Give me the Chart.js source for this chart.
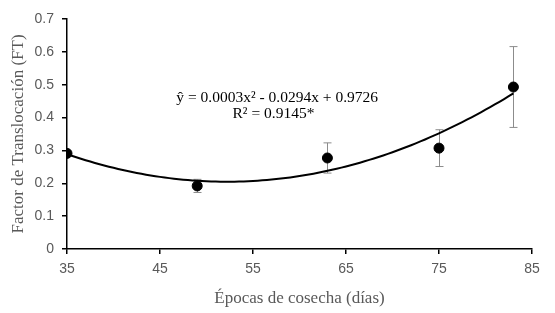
<!DOCTYPE html>
<html>
<head>
<meta charset="utf-8">
<script src="https://cdn.jsdelivr.net/npm/chart.js@4.4.1/dist/chart.umd.min.js"></script>
<style>
  html, body { margin: 0; padding: 0; background: #fff; }
  #wrap { width: 555px; height: 313px; }
</style>
</head>
<body>
<div id="wrap"><canvas id="chart"></canvas></div>
<script>
// harvest times (days) and translocation factor
var dias = [35, 49, 63, 75, 83];
var factor = [0.291, 0.192, 0.277, 0.307, 0.493];
var errorFT = [0, 0.020, 0.046, 0.056, 0.123];
var xTicks = [35, 45, 55, 65, 75, 85];
var ecuacion = "ŷ = 0.0003x² - 0.0294x + 0.9726";
var r2 = "R² = 0.9145*";

// polynomial trendline (order 2), least squares on the points like Excel does
function fitQuad(xs, ys) {
    var n = xs.length, s = [0, 0, 0, 0, 0], t = [0, 0, 0];
    for (var i = 0; i < n; i++) {
        var p = 1;
        for (var k = 0; k < 5; k++) { s[k] += p; if (k < 3) t[k] += p * ys[i]; p *= xs[i]; }
    }
    var m = [[s[0], s[1], s[2], t[0]], [s[1], s[2], s[3], t[1]], [s[2], s[3], s[4], t[2]]];
    for (var c = 0; c < 3; c++) {
        for (var r = c + 1; r < 3; r++) {
            var f = m[r][c] / m[c][c];
            for (var j = c; j < 4; j++) m[r][j] -= f * m[c][j];
        }
    }
    var b = [0, 0, 0];
    for (var r2i = 2; r2i >= 0; r2i--) {
        var sum = m[r2i][3];
        for (var j2 = r2i + 1; j2 < 3; j2++) sum -= m[r2i][j2] * b[j2];
        b[r2i] = sum / m[r2i][r2i];
    }
    return b;
}
var coef = fitQuad(dias, factor);
var tendencia = [];
for (var x = dias[0]; x <= dias[dias.length - 1] + 0.001; x += 0.5) {
    tendencia.push({ x: x, y: coef[0] + coef[1] * x + coef[2] * x * x });
}

var gris = "#595959";

var errorBars = {
    id: "errorBars",
    beforeDatasetsDraw: function(chart) {
        var ctx = chart.ctx, xs = chart.scales.x, ys = chart.scales.y;
        ctx.save();
        ctx.strokeStyle = "#8c8c8c";
        ctx.lineWidth = 1;
        for (var i = 0; i < dias.length; i++) {
            if (!errorFT[i]) continue;
            var px = Math.round(xs.getPixelForValue(dias[i])) + 0.5;
            var top = ys.getPixelForValue(factor[i] + errorFT[i]);
            var bot = ys.getPixelForValue(factor[i] - errorFT[i]);
            ctx.beginPath();
            ctx.moveTo(px, top); ctx.lineTo(px, bot);
            ctx.moveTo(px - 4, top); ctx.lineTo(px + 4, top);
            ctx.moveTo(px - 4, bot); ctx.lineTo(px + 4, bot);
            ctx.stroke();
        }
        ctx.restore();
    },
    afterDatasetsDraw: function(chart) {
        var ctx = chart.ctx, xs = chart.scales.x, ys = chart.scales.y;
        ctx.save();
        ctx.fillStyle = "#000";
        ctx.font = "15.5px 'Liberation Serif'";
        ctx.textAlign = "center";
        ctx.textBaseline = "middle";
        ctx.fillText(ecuacion, xs.getPixelForValue(57.6), ys.getPixelForValue(0.46));
        ctx.fillText(r2, xs.getPixelForValue(57.2), ys.getPixelForValue(0.41));
        ctx.restore();
    }
};

new Chart(document.getElementById("chart"), {
    type: "scatter",
    data: {
        datasets: [{
            data: dias.map(function(d, i) { return { x: d, y: factor[i] }; }),
            backgroundColor: "#000",
            borderColor: "#000",
            pointRadius: 5,
            order: 1
        }, {
            type: "line",
            data: tendencia,
            borderColor: "#000",
            borderWidth: 2,
            pointRadius: 0,
            fill: false,
            order: 2
        }]
    },
    options: {
        responsive: true,
        maintainAspectRatio: false,
        animation: false,
        layout: { padding: { left: 0, right: 23, top: 19, bottom: 0 } },
        plugins: {
            legend: { display: false },
            tooltip: { enabled: false }
        },
        scales: {
            x: {
                type: "linear",
                min: 35, max: 85,
                afterBuildTicks: function(s) { s.ticks = xTicks.map(function(v) { return { value: v }; }); },
                afterFit: function(s) { s.height = 64; },
                grid: { drawOnChartArea: false, drawTicks: true, tickLength: 5, color: "#000", lineWidth: 1.5 },
                border: { color: "#000", width: 1.5 },
                ticks: { color: gris, font: { family: "'Liberation Sans'", size: 14 }, padding: 7, maxRotation: 0 },
                title: { display: true, text: "Épocas de cosecha (días)", color: gris,
                         font: { family: "'Liberation Serif'", size: 17 }, padding: { top: 2 } }
            },
            y: {
                min: 0, max: 0.7,
                ticks: { stepSize: 0.1, color: gris, font: { family: "'Liberation Sans'", size: 14 }, padding: 8,
                         callback: function(v) { return Math.round(v * 10) / 10; } },
                afterFit: function(s) { s.width = 67; },
                grid: { drawOnChartArea: false, drawTicks: true, tickLength: 5, color: "#000", lineWidth: 1.5 },
                border: { color: "#000", width: 1.5 },
                title: { display: true, text: "Factor de Translocación (FT)", color: gris,
                         font: { family: "'Liberation Serif'", size: 17 }, padding: { top: 8, bottom: 0 } }
            }
        }
    },
    plugins: [errorBars]
});
</script>
</body>
</html>
